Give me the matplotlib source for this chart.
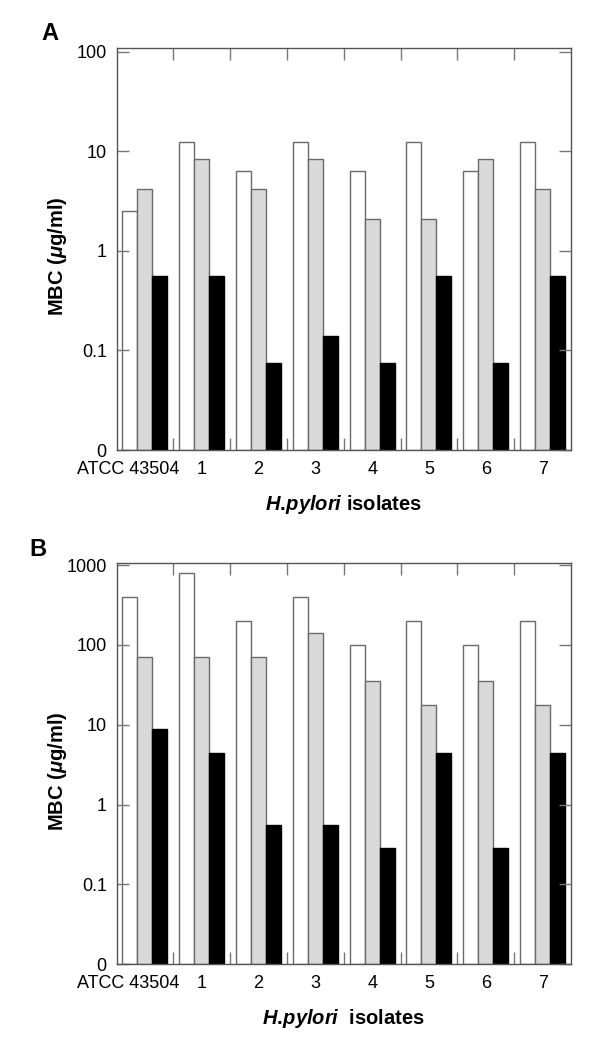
import matplotlib
matplotlib.use("Agg")
import matplotlib.pyplot as plt
from matplotlib.ticker import FixedLocator, NullLocator

plt.rcParams['font.family'] = ['Liberation Sans', 'DejaVu Sans']
plt.rcParams['mathtext.fontset'] = 'custom'
plt.rcParams['mathtext.rm'] = 'Liberation Sans:bold'
plt.rcParams['mathtext.it'] = 'Liberation Sans:italic:bold'
plt.rcParams['mathtext.bf'] = 'Liberation Sans:bold'

isolates = ['ATCC 43504', '1', '2', '3', '4', '5', '6', '7']

# panel A (MBC, ug/ml)
a_white = [2.5, 12.5, 6.25, 12.5, 6.25, 12.5, 6.25, 12.5]
a_gray = [4.17, 8.33, 4.17, 8.33, 2.08, 2.08, 8.33, 4.17]
a_black = [0.55, 0.55, 0.065, 0.13, 0.065, 0.55, 0.065, 0.55]

# panel B (MBC, ug/ml)
b_white = [400, 800, 200, 400, 100, 200, 100, 200]
b_gray = [70, 70, 70, 140, 35, 17.5, 35, 17.5]
b_black = [8.8, 4.4, 0.55, 0.55, 0.275, 4.4, 0.275, 4.4]

a_yticks = [0.01, 0.1, 1, 10, 100]
a_ylabels = ['0', '0.1', '1', '10', '100']
b_yticks = [0.01, 0.1, 1, 10, 100, 1000]
b_ylabels = ['0', '0.1', '1', '10', '100', '1000']

EDGE = '#6a6a6a'
W = 0.264


def draw_panel(ax, white, gray, black, yticks, ylabels, ytop, xlabel):
    n = len(isolates)
    centers = [i + 0.5 for i in range(n)]
    ax.bar([c - W for c in centers], white, W, bottom=0.01, color='white',
           edgecolor=EDGE, linewidth=1.0)
    ax.bar(centers, gray, W, bottom=0.01, color='#d9d9d9',
           edgecolor=EDGE, linewidth=1.0)
    ax.bar([c + W for c in centers], black, W, bottom=0.01, color='black',
           edgecolor='black', linewidth=1.0)

    ax.set_yscale('log')
    ax.set_ylim(0.01, ytop)
    ax.set_xlim(0, n)
    ax.yaxis.set_major_locator(FixedLocator(yticks))
    ax.set_yticklabels(ylabels)
    ax.yaxis.set_minor_locator(NullLocator())

    # labels sit in the middle of each group, the first one a bit to the left
    pos = [0.2] + centers[1:]
    ax.set_xticks(pos, isolates)
    ax.set_xticks(range(1, n), minor=True)
    ax.tick_params(axis='x', which='major', length=0, pad=8, labelsize=13)
    ax.tick_params(axis='x', which='minor', direction='in', top=True,
                   bottom=True, length=8.6, width=1.0, color='#777777')
    ax.tick_params(axis='y', which='major', direction='in', left=True,
                   right=True, length=8.6, width=1.0, color='#777777',
                   pad=7, labelsize=13)

    for sp in ax.spines.values():
        sp.set_color('#555555')
        sp.set_linewidth(1.0)

    ax.set_ylabel(r'MBC ($\mu$g/ml)', fontsize=14.5, fontweight='bold')
    ax.yaxis.set_label_coords(-0.129, 0.482)
    ax.yaxis.label.set_va('center')
    ax.set_xlabel(xlabel, fontsize=14.5, fontweight='bold')
    ax.xaxis.set_label_coords(0.5, -0.136)
    ax.xaxis.label.set_va('center')


fig = plt.figure(figsize=(6, 10.5), dpi=100)
ax_a = fig.add_axes([0.1942, 0.5714, 0.7575, 0.3826])
ax_b = fig.add_axes([0.1942, 0.0816, 0.7575, 0.3819])

draw_panel(ax_a, a_white, a_gray, a_black, a_yticks, a_ylabels, 108,
           r'$H.\!pylori$ isolates')
draw_panel(ax_b, b_white, b_gray, b_black, b_yticks, b_ylabels, 1050,
           r'$H.\!pylori$  isolates')

fig.text(50 / 600, 1 - 34 / 1050, 'A', fontsize=17, fontweight='bold',
         ha='center', va='center')
fig.text(37.5 / 600, 1 - 550 / 1050, 'B', fontsize=17, fontweight='bold',
         ha='center', va='center')

fig.savefig('out.png', dpi=100)
